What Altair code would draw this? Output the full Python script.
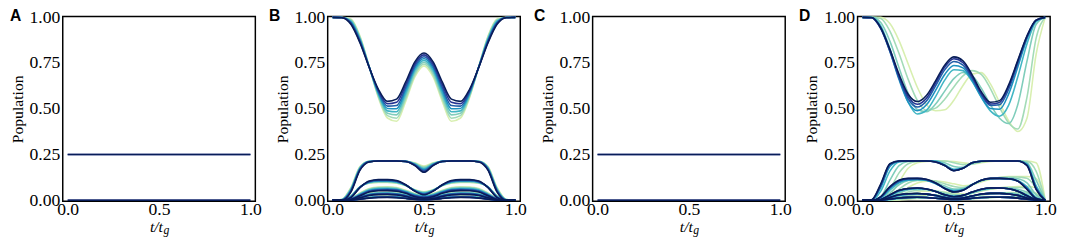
import altair as alt
import pandas as pd

# ---------------- data ----------------
T = [0.0, 0.05, 0.1, 0.15, 0.2, 0.25, 0.3, 0.35, 0.4, 0.45, 0.5,
     0.55, 0.6, 0.65, 0.7, 0.75, 0.8, 0.85, 0.9, 0.95, 1.0]
T_ENDS = [0.0, 1.0]

COLORS = ["#d8efb0", "#a3dbb7", "#7fcdbb", "#41b6c4",
          "#1d91c0", "#225ea8", "#253494", "#081d58"]
LEVEL_COLORS = ["#253494", "#081d58"]

PANELS = ["A", "B", "C", "D"]

# panels A and C: flat populations
A_LEVELS = [0.25, 0.0]
C_LEVELS = [0.25, 0.0]

# panel B
B_P0 = [
    [1.0, 1.0, 0.991, 0.897, 0.733, 0.562, 0.45, 0.432, 0.541, 0.674, 0.735, 0.674, 0.541, 0.432, 0.45, 0.562, 0.733, 0.897, 0.991, 1.0, 1.0],
    [1.0, 0.999, 0.987, 0.892, 0.732, 0.569, 0.463, 0.449, 0.556, 0.686, 0.745, 0.686, 0.556, 0.449, 0.463, 0.569, 0.732, 0.892, 0.987, 0.999, 1.0],
    [1.0, 0.999, 0.983, 0.886, 0.731, 0.575, 0.476, 0.467, 0.571, 0.698, 0.755, 0.698, 0.571, 0.467, 0.476, 0.575, 0.731, 0.886, 0.983, 0.999, 1.0],
    [1.0, 0.999, 0.979, 0.881, 0.73, 0.582, 0.489, 0.484, 0.586, 0.71, 0.765, 0.71, 0.586, 0.484, 0.489, 0.582, 0.73, 0.881, 0.979, 0.999, 1.0],
    [1.0, 0.999, 0.974, 0.876, 0.73, 0.588, 0.502, 0.501, 0.602, 0.722, 0.775, 0.722, 0.602, 0.501, 0.502, 0.588, 0.73, 0.876, 0.974, 0.999, 1.0],
    [1.0, 0.999, 0.97, 0.871, 0.729, 0.595, 0.515, 0.518, 0.617, 0.733, 0.785, 0.733, 0.617, 0.518, 0.515, 0.595, 0.729, 0.871, 0.97, 0.999, 1.0],
    [1.0, 0.999, 0.966, 0.865, 0.728, 0.601, 0.528, 0.536, 0.632, 0.745, 0.795, 0.745, 0.632, 0.536, 0.528, 0.601, 0.728, 0.865, 0.966, 0.999, 1.0],
    [1.0, 0.998, 0.962, 0.86, 0.727, 0.608, 0.541, 0.553, 0.647, 0.757, 0.805, 0.757, 0.647, 0.553, 0.541, 0.608, 0.727, 0.86, 0.962, 0.998, 1.0],
]
B_P1 = [
    [0, 0.005, 0.07, 0.185, 0.213, 0.215, 0.215, 0.215, 0.214, 0.205, 0.188, 0.205, 0.214, 0.215, 0.215, 0.215, 0.213, 0.185, 0.07, 0.005, 0],
    [0, 0.004, 0.066, 0.182, 0.213, 0.215, 0.215, 0.215, 0.214, 0.203, 0.183, 0.203, 0.214, 0.215, 0.215, 0.215, 0.213, 0.182, 0.066, 0.004, 0],
    [0, 0.004, 0.063, 0.179, 0.213, 0.215, 0.215, 0.215, 0.214, 0.201, 0.178, 0.201, 0.214, 0.215, 0.215, 0.215, 0.213, 0.179, 0.063, 0.004, 0],
    [0, 0.003, 0.059, 0.176, 0.212, 0.215, 0.215, 0.215, 0.213, 0.199, 0.173, 0.199, 0.213, 0.215, 0.215, 0.215, 0.212, 0.176, 0.059, 0.003, 0],
    [0, 0.002, 0.056, 0.174, 0.212, 0.215, 0.215, 0.215, 0.213, 0.196, 0.168, 0.196, 0.213, 0.215, 0.215, 0.215, 0.212, 0.174, 0.056, 0.002, 0],
    [0, 0.002, 0.052, 0.171, 0.211, 0.215, 0.215, 0.215, 0.213, 0.194, 0.163, 0.194, 0.213, 0.215, 0.215, 0.215, 0.211, 0.171, 0.052, 0.002, 0],
    [0, 0.001, 0.049, 0.168, 0.211, 0.215, 0.215, 0.215, 0.212, 0.192, 0.158, 0.192, 0.212, 0.215, 0.215, 0.215, 0.211, 0.168, 0.049, 0.001, 0],
    [0, 0.0, 0.045, 0.165, 0.21, 0.215, 0.215, 0.215, 0.212, 0.19, 0.153, 0.19, 0.212, 0.215, 0.215, 0.215, 0.21, 0.165, 0.045, 0.0, 0],
]
B_P2 = [
    [0, 0.002, 0.025, 0.075, 0.093, 0.097, 0.097, 0.093, 0.08, 0.058, 0.047, 0.058, 0.08, 0.093, 0.097, 0.097, 0.093, 0.075, 0.025, 0.002, 0],
    [0, 0.002, 0.024, 0.074, 0.095, 0.099, 0.099, 0.095, 0.081, 0.057, 0.045, 0.057, 0.081, 0.095, 0.099, 0.099, 0.095, 0.074, 0.024, 0.002, 0],
    [0, 0.001, 0.022, 0.074, 0.096, 0.102, 0.102, 0.097, 0.081, 0.056, 0.042, 0.056, 0.081, 0.097, 0.102, 0.102, 0.096, 0.074, 0.022, 0.001, 0],
    [0, 0.001, 0.021, 0.073, 0.098, 0.104, 0.104, 0.099, 0.082, 0.055, 0.04, 0.055, 0.082, 0.099, 0.104, 0.104, 0.098, 0.073, 0.021, 0.001, 0],
    [0, 0.001, 0.019, 0.072, 0.1, 0.106, 0.106, 0.102, 0.083, 0.053, 0.037, 0.053, 0.083, 0.102, 0.106, 0.106, 0.1, 0.072, 0.019, 0.001, 0],
    [0, 0.001, 0.018, 0.071, 0.102, 0.108, 0.108, 0.104, 0.084, 0.052, 0.035, 0.052, 0.084, 0.104, 0.108, 0.108, 0.102, 0.071, 0.018, 0.001, 0],
    [0, 0.0, 0.016, 0.071, 0.103, 0.111, 0.111, 0.106, 0.084, 0.051, 0.032, 0.051, 0.084, 0.106, 0.111, 0.111, 0.103, 0.071, 0.016, 0.0, 0],
    [0, 0.0, 0.015, 0.07, 0.105, 0.113, 0.113, 0.108, 0.085, 0.05, 0.03, 0.05, 0.085, 0.108, 0.113, 0.113, 0.105, 0.07, 0.015, 0.0, 0],
]
B_P3 = [
    [0, 0, 0.01, 0.04, 0.065, 0.073, 0.074, 0.07, 0.055, 0.038, 0.032, 0.038, 0.055, 0.07, 0.074, 0.073, 0.065, 0.04, 0.01, 0, 0],
    [0, 0, 0.009, 0.038, 0.062, 0.07, 0.071, 0.067, 0.053, 0.035, 0.029, 0.035, 0.053, 0.067, 0.071, 0.07, 0.062, 0.038, 0.009, 0, 0],
    [0, 0, 0.009, 0.036, 0.059, 0.067, 0.068, 0.064, 0.05, 0.033, 0.026, 0.033, 0.05, 0.064, 0.068, 0.067, 0.059, 0.036, 0.009, 0, 0],
    [0, 0, 0.008, 0.034, 0.056, 0.064, 0.065, 0.061, 0.048, 0.03, 0.023, 0.03, 0.048, 0.061, 0.065, 0.064, 0.056, 0.034, 0.008, 0, 0],
    [0, 0, 0.007, 0.031, 0.054, 0.061, 0.062, 0.059, 0.045, 0.028, 0.021, 0.028, 0.045, 0.059, 0.062, 0.061, 0.054, 0.031, 0.007, 0, 0],
    [0, 0, 0.006, 0.029, 0.051, 0.058, 0.059, 0.056, 0.043, 0.025, 0.018, 0.025, 0.043, 0.056, 0.059, 0.058, 0.051, 0.029, 0.006, 0, 0],
    [0, 0, 0.006, 0.027, 0.048, 0.055, 0.056, 0.053, 0.04, 0.023, 0.015, 0.023, 0.04, 0.053, 0.056, 0.055, 0.048, 0.027, 0.006, 0, 0],
    [0, 0, 0.005, 0.025, 0.045, 0.052, 0.053, 0.05, 0.038, 0.02, 0.012, 0.02, 0.038, 0.05, 0.053, 0.052, 0.045, 0.025, 0.005, 0, 0],
]
B_P4 = [
    [0, 0, 0.005, 0.022, 0.038, 0.044, 0.045, 0.042, 0.032, 0.018, 0.012, 0.018, 0.032, 0.042, 0.045, 0.044, 0.038, 0.022, 0.005, 0, 0],
    [0, 0, 0.005, 0.021, 0.036, 0.042, 0.043, 0.04, 0.031, 0.017, 0.011, 0.017, 0.031, 0.04, 0.043, 0.042, 0.036, 0.021, 0.005, 0, 0],
    [0, 0, 0.004, 0.02, 0.034, 0.04, 0.041, 0.038, 0.029, 0.016, 0.01, 0.016, 0.029, 0.038, 0.041, 0.04, 0.034, 0.02, 0.004, 0, 0],
    [0, 0, 0.004, 0.019, 0.033, 0.039, 0.039, 0.036, 0.028, 0.015, 0.009, 0.015, 0.028, 0.036, 0.039, 0.039, 0.033, 0.019, 0.004, 0, 0],
    [0, 0, 0.004, 0.018, 0.031, 0.037, 0.038, 0.035, 0.026, 0.014, 0.008, 0.014, 0.026, 0.035, 0.038, 0.037, 0.031, 0.018, 0.004, 0, 0],
    [0, 0, 0.004, 0.016, 0.03, 0.035, 0.036, 0.033, 0.025, 0.012, 0.007, 0.012, 0.025, 0.033, 0.036, 0.035, 0.03, 0.016, 0.004, 0, 0],
    [0, 0, 0.003, 0.015, 0.028, 0.033, 0.034, 0.031, 0.023, 0.011, 0.006, 0.011, 0.023, 0.031, 0.034, 0.033, 0.028, 0.015, 0.003, 0, 0],
    [0, 0, 0.003, 0.014, 0.026, 0.031, 0.032, 0.029, 0.021, 0.01, 0.005, 0.01, 0.021, 0.029, 0.032, 0.031, 0.026, 0.014, 0.003, 0, 0],
]
B_P5 = [
    [0, 0, 0.002, 0.01, 0.018, 0.022, 0.023, 0.021, 0.016, 0.009, 0.006, 0.009, 0.016, 0.021, 0.023, 0.022, 0.018, 0.01, 0.002, 0, 0],
    [0, 0, 0.002, 0.009, 0.017, 0.021, 0.022, 0.02, 0.015, 0.008, 0.006, 0.008, 0.015, 0.02, 0.022, 0.021, 0.017, 0.009, 0.002, 0, 0],
    [0, 0, 0.002, 0.009, 0.016, 0.02, 0.021, 0.019, 0.014, 0.008, 0.005, 0.008, 0.014, 0.019, 0.021, 0.02, 0.016, 0.009, 0.002, 0, 0],
    [0, 0, 0.002, 0.008, 0.015, 0.019, 0.02, 0.018, 0.013, 0.007, 0.005, 0.007, 0.013, 0.018, 0.02, 0.019, 0.015, 0.008, 0.002, 0, 0],
    [0, 0, 0.001, 0.008, 0.014, 0.018, 0.019, 0.017, 0.012, 0.007, 0.004, 0.007, 0.012, 0.017, 0.019, 0.018, 0.014, 0.008, 0.001, 0, 0],
    [0, 0, 0.001, 0.007, 0.013, 0.017, 0.018, 0.016, 0.011, 0.006, 0.004, 0.006, 0.011, 0.016, 0.018, 0.017, 0.013, 0.007, 0.001, 0, 0],
    [0, 0, 0.001, 0.007, 0.013, 0.016, 0.017, 0.015, 0.011, 0.006, 0.003, 0.006, 0.011, 0.015, 0.017, 0.016, 0.013, 0.007, 0.001, 0, 0],
    [0, 0, 0.001, 0.006, 0.012, 0.015, 0.016, 0.014, 0.01, 0.005, 0.003, 0.005, 0.01, 0.014, 0.016, 0.015, 0.012, 0.006, 0.001, 0, 0],
]

# panel D
D_P0 = [
    [1.0, 1.0, 1.0, 0.966, 0.873, 0.745, 0.618, 0.524, 0.49, 0.495, 0.547, 0.628, 0.689, 0.698, 0.636, 0.535, 0.434, 0.376, 0.449, 0.797, 1.0],
    [1.0, 1.0, 0.994, 0.925, 0.802, 0.661, 0.546, 0.492, 0.504, 0.553, 0.62, 0.68, 0.709, 0.689, 0.611, 0.508, 0.423, 0.39, 0.563, 0.885, 1.0],
    [1.0, 1.0, 0.972, 0.87, 0.725, 0.585, 0.496, 0.484, 0.526, 0.597, 0.665, 0.699, 0.681, 0.613, 0.524, 0.449, 0.42, 0.524, 0.76, 0.961, 1.0],
    [1.0, 0.999, 0.953, 0.829, 0.671, 0.536, 0.472, 0.492, 0.567, 0.657, 0.714, 0.709, 0.65, 0.563, 0.489, 0.46, 0.52, 0.675, 0.854, 0.977, 1.0],
    [1.0, 0.999, 0.944, 0.815, 0.66, 0.537, 0.49, 0.522, 0.601, 0.688, 0.737, 0.724, 0.655, 0.566, 0.502, 0.498, 0.582, 0.729, 0.882, 0.982, 1.0],
    [1.0, 0.998, 0.938, 0.814, 0.668, 0.554, 0.51, 0.543, 0.626, 0.713, 0.759, 0.739, 0.667, 0.578, 0.518, 0.522, 0.607, 0.748, 0.89, 0.984, 1.0],
    [1.0, 0.998, 0.94, 0.82, 0.678, 0.567, 0.525, 0.558, 0.641, 0.728, 0.774, 0.753, 0.676, 0.584, 0.526, 0.535, 0.623, 0.76, 0.896, 0.985, 1.0],
    [1.0, 0.999, 0.943, 0.825, 0.689, 0.58, 0.54, 0.573, 0.653, 0.739, 0.784, 0.763, 0.686, 0.594, 0.536, 0.545, 0.631, 0.765, 0.898, 0.985, 1.0],
]
D_P1 = [
    [0, 0, 0, 0.03, 0.1, 0.175, 0.205, 0.213, 0.215, 0.215, 0.212, 0.205, 0.2, 0.205, 0.212, 0.215, 0.215, 0.215, 0.215, 0.205, 0],
    [0, 0, 0.003, 0.06, 0.15, 0.2, 0.213, 0.215, 0.215, 0.215, 0.205, 0.195, 0.198, 0.21, 0.215, 0.215, 0.215, 0.215, 0.213, 0.16, 0],
    [0, 0, 0.02, 0.11, 0.19, 0.212, 0.215, 0.215, 0.215, 0.205, 0.185, 0.18, 0.2, 0.213, 0.215, 0.215, 0.215, 0.215, 0.205, 0.11, 0],
    [0, 0.001, 0.05, 0.16, 0.21, 0.215, 0.215, 0.215, 0.215, 0.195, 0.17, 0.178, 0.205, 0.214, 0.215, 0.215, 0.215, 0.215, 0.2, 0.08, 0],
    [0, 0.002, 0.07, 0.185, 0.213, 0.215, 0.215, 0.215, 0.212, 0.192, 0.165, 0.175, 0.205, 0.214, 0.215, 0.215, 0.215, 0.214, 0.195, 0.07, 0],
    [0, 0.002, 0.08, 0.195, 0.214, 0.215, 0.215, 0.215, 0.211, 0.19, 0.163, 0.175, 0.205, 0.214, 0.215, 0.215, 0.215, 0.215, 0.192, 0.065, 0],
    [0, 0.003, 0.085, 0.198, 0.215, 0.215, 0.215, 0.215, 0.21, 0.19, 0.162, 0.175, 0.205, 0.214, 0.215, 0.215, 0.215, 0.215, 0.19, 0.062, 0],
    [0, 0.003, 0.09, 0.2, 0.215, 0.215, 0.215, 0.215, 0.21, 0.19, 0.162, 0.175, 0.205, 0.214, 0.215, 0.215, 0.215, 0.215, 0.19, 0.06, 0],
]
D_P2 = [
    [0, 0, 0, 0.005, 0.03, 0.07, 0.095, 0.105, 0.105, 0.1, 0.09, 0.08, 0.085, 0.1, 0.115, 0.125, 0.13, 0.13, 0.13, 0.12, 0],
    [0, 0, 0.003, 0.02, 0.06, 0.095, 0.108, 0.11, 0.105, 0.09, 0.075, 0.07, 0.085, 0.105, 0.118, 0.125, 0.127, 0.127, 0.12, 0.07, 0],
    [0, 0, 0.008, 0.04, 0.085, 0.108, 0.113, 0.11, 0.098, 0.078, 0.062, 0.065, 0.088, 0.11, 0.12, 0.123, 0.123, 0.118, 0.095, 0.03, 0],
    [0, 0, 0.012, 0.055, 0.095, 0.11, 0.112, 0.108, 0.09, 0.068, 0.055, 0.06, 0.085, 0.108, 0.118, 0.12, 0.118, 0.108, 0.075, 0.015, 0],
    [0, 0, 0.015, 0.065, 0.1, 0.113, 0.115, 0.11, 0.092, 0.066, 0.05, 0.057, 0.085, 0.109, 0.118, 0.119, 0.117, 0.105, 0.068, 0.012, 0],
    [0, 0, 0.017, 0.07, 0.105, 0.117, 0.118, 0.113, 0.094, 0.065, 0.047, 0.056, 0.085, 0.11, 0.119, 0.12, 0.118, 0.105, 0.064, 0.011, 0],
    [0, 0, 0.018, 0.072, 0.108, 0.119, 0.12, 0.114, 0.095, 0.065, 0.046, 0.055, 0.085, 0.11, 0.12, 0.12, 0.118, 0.105, 0.062, 0.01, 0],
    [0, 0, 0.02, 0.075, 0.11, 0.12, 0.12, 0.115, 0.095, 0.065, 0.045, 0.055, 0.085, 0.11, 0.12, 0.12, 0.118, 0.105, 0.06, 0.01, 0],
]
D_P3 = [
    [0, 0, 0, 0, 0.01, 0.03, 0.045, 0.05, 0.05, 0.045, 0.04, 0.035, 0.04, 0.05, 0.06, 0.068, 0.072, 0.075, 0.075, 0.07, 0],
    [0, 0, 0, 0.005, 0.025, 0.045, 0.055, 0.058, 0.052, 0.042, 0.033, 0.03, 0.038, 0.052, 0.062, 0.068, 0.07, 0.07, 0.065, 0.035, 0],
    [0, 0, 0.002, 0.015, 0.04, 0.056, 0.062, 0.06, 0.05, 0.036, 0.026, 0.027, 0.042, 0.056, 0.065, 0.068, 0.067, 0.06, 0.045, 0.012, 0],
    [0, 0, 0.004, 0.024, 0.048, 0.06, 0.064, 0.06, 0.048, 0.032, 0.022, 0.026, 0.043, 0.058, 0.066, 0.067, 0.063, 0.052, 0.03, 0.006, 0],
    [0, 0, 0.005, 0.027, 0.052, 0.063, 0.066, 0.061, 0.048, 0.031, 0.021, 0.026, 0.044, 0.059, 0.066, 0.067, 0.063, 0.05, 0.026, 0.005, 0],
    [0, 0, 0.005, 0.028, 0.053, 0.064, 0.066, 0.062, 0.048, 0.03, 0.02, 0.026, 0.045, 0.06, 0.067, 0.067, 0.063, 0.05, 0.025, 0.004, 0],
    [0, 0, 0.005, 0.03, 0.054, 0.065, 0.067, 0.062, 0.048, 0.03, 0.02, 0.027, 0.045, 0.06, 0.067, 0.067, 0.063, 0.05, 0.025, 0.004, 0],
    [0, 0, 0.005, 0.03, 0.055, 0.065, 0.067, 0.062, 0.048, 0.03, 0.02, 0.027, 0.045, 0.06, 0.067, 0.067, 0.063, 0.05, 0.025, 0.004, 0],
]
D_P4 = [
    [0, 0, 0, 0, 0.004, 0.014, 0.024, 0.028, 0.028, 0.025, 0.022, 0.02, 0.022, 0.028, 0.034, 0.039, 0.042, 0.044, 0.044, 0.04, 0],
    [0, 0, 0, 0.002, 0.012, 0.024, 0.03, 0.032, 0.029, 0.023, 0.018, 0.017, 0.022, 0.03, 0.036, 0.04, 0.041, 0.041, 0.037, 0.02, 0],
    [0, 0, 0.001, 0.007, 0.02, 0.03, 0.034, 0.033, 0.027, 0.019, 0.013, 0.014, 0.023, 0.031, 0.037, 0.039, 0.039, 0.034, 0.025, 0.006, 0],
    [0, 0, 0.002, 0.012, 0.026, 0.034, 0.036, 0.034, 0.027, 0.017, 0.011, 0.013, 0.024, 0.033, 0.038, 0.039, 0.036, 0.029, 0.016, 0.003, 0],
    [0, 0, 0.002, 0.014, 0.028, 0.035, 0.037, 0.034, 0.026, 0.016, 0.01, 0.013, 0.024, 0.033, 0.038, 0.038, 0.035, 0.027, 0.013, 0.002, 0],
    [0, 0, 0.002, 0.015, 0.029, 0.036, 0.037, 0.034, 0.026, 0.016, 0.01, 0.013, 0.024, 0.033, 0.038, 0.038, 0.035, 0.027, 0.012, 0.002, 0],
    [0, 0, 0.002, 0.016, 0.03, 0.036, 0.037, 0.034, 0.026, 0.015, 0.009, 0.013, 0.024, 0.034, 0.038, 0.038, 0.035, 0.027, 0.012, 0.002, 0],
    [0, 0, 0.002, 0.016, 0.03, 0.036, 0.037, 0.034, 0.026, 0.015, 0.009, 0.013, 0.024, 0.034, 0.038, 0.038, 0.035, 0.027, 0.012, 0.002, 0],
]
D_P5 = [
    [0, 0, 0, 0, 0.002, 0.006, 0.01, 0.012, 0.012, 0.011, 0.01, 0.009, 0.01, 0.012, 0.015, 0.017, 0.019, 0.02, 0.02, 0.018, 0],
    [0, 0, 0, 0.001, 0.005, 0.01, 0.013, 0.014, 0.013, 0.01, 0.008, 0.008, 0.01, 0.013, 0.016, 0.018, 0.018, 0.018, 0.016, 0.009, 0],
    [0, 0, 0, 0.003, 0.009, 0.013, 0.015, 0.015, 0.012, 0.009, 0.006, 0.006, 0.01, 0.014, 0.016, 0.017, 0.017, 0.015, 0.011, 0.003, 0],
    [0, 0, 0.001, 0.005, 0.011, 0.015, 0.016, 0.015, 0.012, 0.008, 0.005, 0.006, 0.01, 0.014, 0.017, 0.017, 0.016, 0.013, 0.007, 0.001, 0],
    [0, 0, 0.001, 0.007, 0.013, 0.016, 0.017, 0.015, 0.011, 0.007, 0.004, 0.006, 0.011, 0.015, 0.017, 0.017, 0.016, 0.012, 0.006, 0.001, 0],
    [0, 0, 0.001, 0.007, 0.013, 0.016, 0.017, 0.015, 0.011, 0.007, 0.004, 0.006, 0.011, 0.015, 0.017, 0.017, 0.016, 0.012, 0.006, 0.001, 0],
    [0, 0, 0.001, 0.007, 0.013, 0.016, 0.017, 0.015, 0.011, 0.007, 0.004, 0.006, 0.011, 0.015, 0.017, 0.017, 0.016, 0.012, 0.006, 0.001, 0],
    [0, 0, 0.001, 0.007, 0.013, 0.016, 0.017, 0.015, 0.011, 0.007, 0.004, 0.006, 0.011, 0.015, 0.017, 0.017, 0.016, 0.012, 0.006, 0.001, 0],
]

FAMILIES = {
    "B": [B_P0, B_P1, B_P2, B_P3, B_P4, B_P5],
    "D": [D_P0, D_P1, D_P2, D_P3, D_P4, D_P5],
}
LEVELS = {"A": A_LEVELS, "C": C_LEVELS}

# ---------------- build long table ----------------
rows = []
cid = 0
for p in PANELS:
    if p in LEVELS:
        for col in LEVEL_COLORS:
            for lvl in LEVELS[p]:
                cid += 1
                for t in T_ENDS:
                    rows.append({"panel": p, "t": t, "v": lvl, "col": col, "cid": cid})
    else:
        for k, col in enumerate(COLORS):
            for fam in FAMILIES[p]:
                cid += 1
                for t, v in zip(T, fam[k]):
                    rows.append({"panel": p, "t": t, "v": v, "col": col, "cid": cid})
df = pd.DataFrame(rows)

W, H = 197, 189
SERIF = "Liberation Serif, Times New Roman, serif"


def panel(letter, letter_x):
    d = df[df["panel"] == letter]
    lines = alt.Chart(d).mark_line(strokeWidth=1.6, interpolate="monotone").encode(
        x=alt.X("t:Q",
                scale=alt.Scale(domain=[-0.027, 1.027], nice=False, zero=False),
                axis=alt.Axis(values=[0, 0.5, 1], format=".1f", title=None,
                              labelFont=SERIF, labelFontSize=18, labelColor="black",
                              ticks=False, tickSize=0, domain=False, grid=False,
                              labelPadding=0, labelFlush=False)),
        y=alt.Y("v:Q",
                scale=alt.Scale(domain=[-0.005, 1.005], nice=False, zero=False),
                axis=alt.Axis(values=[0, 0.25, 0.5, 0.75, 1], format=".2f",
                              title="Population", titleFont=SERIF, titleFontSize=16,
                              titleFontWeight="normal", titleColor="black", titlePadding=4,
                              labelFont=SERIF, labelFontSize=18, labelColor="black",
                              ticks=False, tickSize=0, domain=False, grid=False,
                              labelPadding=3)),
        color=alt.Color("col:N", scale=None),
        detail=alt.Detail("cid:N"),
    )
    one = pd.DataFrame({"s": [letter]})
    lab = alt.Chart(one).mark_text(font="Liberation Sans, Arial, sans-serif", fontWeight="bold",
                                   fontSize=16, align="left", baseline="alphabetic",
                                   color="black").encode(
        x=alt.value(letter_x), y=alt.value(5), text="s:N")
    xt1 = alt.Chart(one).mark_text(font=SERIF, fontStyle="italic", fontSize=16,
                                   align="right", baseline="alphabetic", color="black").encode(
        x=alt.value(W / 2 + 4), y=alt.value(H + 31), text=alt.value("t/t"))
    xt2 = alt.Chart(one).mark_text(font=SERIF, fontStyle="italic", fontSize=12,
                                   align="left", baseline="alphabetic", color="black").encode(
        x=alt.value(W / 2 + 4.5), y=alt.value(H + 34), text=alt.value("g"))
    return alt.layer(lines, lab, xt1, xt2).properties(width=W, height=H)


chart = alt.hconcat(
    panel("A", -54), panel("B", -60), panel("C", -60), panel("D", -60),
    spacing=6,
).properties(
    padding={"left": 0, "top": -3, "right": 0, "bottom": 0},
    background="white",
).configure(
    font=SERIF
).configure_view(
    stroke="black", strokeWidth=1.5
)

chart.save("out.html", embed_options={"renderer": "svg", "actions": False})
